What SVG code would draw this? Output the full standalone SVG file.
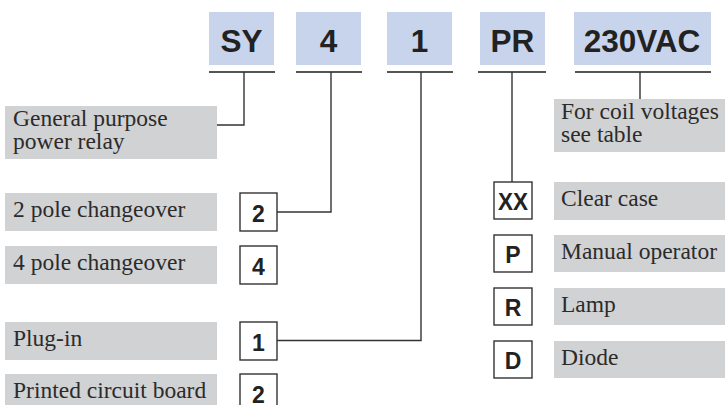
<svg xmlns="http://www.w3.org/2000/svg" width="725" height="405" viewBox="0 0 725 405">
<style>
.code{fill:#c7d4eb}
.desc{fill:#d1d2d4}
.opt{fill:#fff;stroke:#333;stroke-width:1.4}
.ul{stroke:#555;stroke-width:2;fill:none}
.ln{stroke:#333;stroke-width:1.4;fill:none}
.big{font-family:"Liberation Sans",Arial,sans-serif;font-weight:bold;font-size:31.5px;fill:#222;text-anchor:middle}
.sm{font-family:"Liberation Sans",Arial,sans-serif;font-weight:bold;font-size:23px;fill:#222;text-anchor:middle}
.tx{font-family:"Liberation Serif","Times New Roman",serif;font-size:23.5px;fill:#2b2b2b}
</style>
<rect width="725" height="405" fill="#fff"/>
<g id="code-SY"><rect class="code" x="209" y="12" width="65" height="53"/><text class="big" x="241.5" y="52">SY</text><line class="ul" x1="209" y1="72" x2="275" y2="72"/></g>
<g id="code-4"><rect class="code" x="296" y="12" width="65" height="53"/><text class="big" x="328.5" y="52">4</text><line class="ul" x1="296" y1="72" x2="362" y2="72"/></g>
<g id="code-1"><rect class="code" x="387" y="12" width="65" height="53"/><text class="big" x="419.5" y="52">1</text><line class="ul" x1="387" y1="72" x2="453" y2="72"/></g>
<g id="code-PR"><rect class="code" x="480" y="12" width="65" height="53"/><text class="big" x="512.5" y="52">PR</text><line class="ul" x1="478" y1="72" x2="546" y2="72"/></g>
<g id="code-230VAC"><rect class="code" x="574" y="12" width="137" height="53"/><text class="big" x="642" y="52">230VAC</text><line class="ul" x1="575" y1="72" x2="711" y2="72"/></g>

<g id="desc-general"><rect class="desc" x="5" y="106" width="212" height="53"/><text class="tx" x="13" y="125.5">General purpose</text><text class="tx" x="13" y="148.5">power relay</text></g>
<g id="desc-coil"><rect class="desc" x="554" y="99" width="171" height="53"/><text class="tx" x="561" y="118.5">For coil voltages</text><text class="tx" x="561" y="141.5">see table</text></g>

<g id="desc-2pole"><rect class="desc" x="5" y="193" width="212" height="38"/><text class="tx" x="13" y="217">2 pole changeover</text></g>
<g id="opt-2pole"><rect class="opt" x="240" y="193" width="37" height="38"/><text class="sm" x="258.5" y="221.5">2</text></g>
<g id="desc-4pole"><rect class="desc" x="5" y="246" width="212" height="38"/><text class="tx" x="13" y="270">4 pole changeover</text></g>
<g id="opt-4pole"><rect class="opt" x="240" y="246" width="37" height="38"/><text class="sm" x="258.5" y="274.5">4</text></g>
<g id="desc-plugin"><rect class="desc" x="5" y="322" width="212" height="38"/><text class="tx" x="13" y="346">Plug-in</text></g>
<g id="opt-plugin"><rect class="opt" x="240" y="322" width="37" height="38"/><text class="sm" x="258.5" y="350.5">1</text></g>
<g id="desc-pcb"><rect class="desc" x="5" y="374" width="212" height="38"/><text class="tx" x="13" y="398">Printed circuit board</text></g>
<g id="opt-pcb"><rect class="opt" x="240" y="374" width="37" height="38"/><text class="sm" x="258.5" y="402.5">2</text></g>

<g id="opt-XX"><rect class="opt" x="494" y="182" width="38" height="37"/><text class="sm" x="513" y="210" textLength="30" lengthAdjust="spacingAndGlyphs">XX</text></g>
<g id="desc-clear"><rect class="desc" x="554" y="182" width="171" height="38"/><text class="tx" x="561" y="205.5">Clear case</text></g>
<g id="opt-P"><rect class="opt" x="494" y="235" width="38" height="37"/><text class="sm" x="513" y="263">P</text></g>
<g id="desc-manual"><rect class="desc" x="554" y="235" width="171" height="37"/><text class="tx" x="561" y="258.5">Manual operator</text></g>
<g id="opt-R"><rect class="opt" x="494" y="288" width="38" height="37"/><text class="sm" x="513" y="316">R</text></g>
<g id="desc-lamp"><rect class="desc" x="554" y="288" width="171" height="37"/><text class="tx" x="561" y="311.5">Lamp</text></g>
<g id="opt-D"><rect class="opt" x="494" y="341" width="38" height="37"/><text class="sm" x="513" y="369">D</text></g>
<g id="desc-diode"><rect class="desc" x="554" y="341" width="171" height="37"/><text class="tx" x="561" y="364.5">Diode</text></g>

<g id="connectors">
<polyline class="ln" points="244,72 244,125 217,125"/>
<polyline class="ln" points="331,72 331,212 277,212"/>
<polyline class="ln" points="421,72 421,340.5 277,340.5"/>
<polyline class="ln" points="512,72 512,182"/>
<polyline class="ln" points="640,72 640,99"/>
</g>
</svg>
